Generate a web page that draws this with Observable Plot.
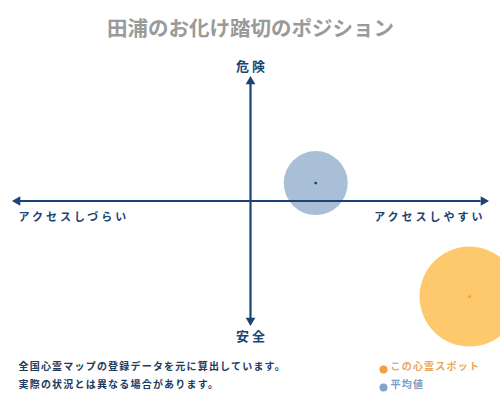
<!DOCTYPE html>
<html>
<head>
<meta charset="utf-8">
<script src="https://cdn.jsdelivr.net/npm/d3@7"></script>
<script src="https://cdn.jsdelivr.net/npm/@observablehq/plot@0.6"></script>
<style>
  html, body { margin: 0; padding: 0; background: #fff; }
  #chart { width: 500px; height: 400px; }
</style>
</head>
<body>
<div id="chart"></div>
<script>
// ---- data ----
const title = "田浦のお化け踏切のポジション";
const seriesNames = ["平均値", "この心霊スポット"];
const accessScore = [28, 94];      // x: アクセスしづらい(-100) … アクセスしやすい(100)
const dangerScore = [15, -80];     // y: 安全(-100) … 危険(100)
const weight = [64, 100];          // bubble size value
const axisLabels = { top: "危険", bottom: "安全", left: "アクセスしづらい", right: "アクセスしやすい" };
const notes = ["全国心霊マップの登録データを元に算出しています。", "実際の状況とは異なる場合があります。"];
const legendNames = ["この心霊スポット", "平均値"];

// ---- build ----
const spots = seriesNames.map((name, i) => ({ name, x: accessScore[i], y: dangerScore[i], w: weight[i] }));
const fills = { "平均値": "#a9bfd8", "この心霊スポット": "#fec96d" };
const dotFills = { "平均値": "#1d3f66", "この心霊スポット": "#f0a020" };
const legendDot = { "この心霊スポット": "#f0a040", "平均値": "#7ea5cb" };
const legendText = { "この心霊スポット": "#e6a85a", "平均値": "#7a9cc2" };
const navy = "#1b4473";
const font = "'Noto Sans CJK JP', 'Noto Sans', sans-serif";

const ends = [
  { x: 0, y: 100, rot: 0 },
  { x: 0, y: -100, rot: 180 },
  { x: -100, y: 0, rot: -90 },
  { x: 100, y: 0, rot: 90 }
];

const noteMarks = notes.map((t, i) =>
  Plot.text([t], { frameAnchor: "bottom-left", dx: 18, dy: -31 + i * 18, fill: "#1e3a5c", fontSize: 10, fontWeight: "bold", text: d => d })
);
const legendMarks = legendNames.flatMap((name, i) => [
  Plot.dot([name], { frameAnchor: "bottom-left", dx: 383, dy: -31 + i * 18, r: 4, fill: d => legendDot[d], stroke: "none" }),
  Plot.text([name], { frameAnchor: "bottom-left", dx: 390, dy: -31 + i * 18, fill: d => legendText[d], fontSize: 10, fontWeight: "bold", text: d => d })
]);

const chart = Plot.plot({
  width: 500,
  height: 400,
  margin: 0,
  style: { fontFamily: font, background: "#fff", overflow: "hidden" },
  x: { domain: [-100, 100], range: [17, 483], axis: null },
  y: { domain: [-100, 100], range: [320, 81], axis: null },
  r: { type: "linear", domain: [0, 100], range: [0, 50] },
  marks: [
    // bubbles
    Plot.dot(spots, { x: "x", y: "y", r: "w", fill: d => fills[d.name], stroke: "none" }),
    // axes
    Plot.ruleY([0], { x1: -99, x2: 99, stroke: navy, strokeWidth: 2.2 }),
    Plot.ruleX([0], { y1: -99, y2: 99, stroke: navy, strokeWidth: 2.2 }),
    Plot.dot(ends, { x: "x", y: "y", symbol: "triangle", r: 3.6, fill: navy, stroke: "none", rotate: "rot" }),
    // centre dots
    Plot.dot(spots, { x: "x", y: "y", r: 1.4, fill: d => dotFills[d.name], stroke: "none" }),
    // axis labels
    Plot.text([axisLabels.top], { x: 0, y: 100, dy: -15, fill: navy, fontSize: 13, fontWeight: "bold", text: d => d.split("").join(" ") }),
    Plot.text([axisLabels.bottom], { x: 0, y: -100, dy: 16, fill: navy, fontSize: 13, fontWeight: "bold", text: d => d.split("").join(" ") }),
    Plot.text([axisLabels.left], { x: -100, y: 0, dx: 1, dy: 16, textAnchor: "start", fill: navy, fontSize: 11, fontWeight: "bold", text: d => d }),
    Plot.text([axisLabels.right], { x: 100, y: 0, dx: 2, dy: 16, textAnchor: "end", fill: navy, fontSize: 11, fontWeight: "bold", text: d => d }),
    // title
    Plot.text([title], { frameAnchor: "top", dy: 21, fill: "#9a9a9a", fontSize: 20.5, fontWeight: "bold", text: d => d }),
    ...noteMarks,
    ...legendMarks
  ]
});

const sideSet = new Set([axisLabels.left, axisLabels.right]);
const noteSet = new Set([...notes, ...legendNames]);
d3.select(chart).selectAll("text").each(function () {
  const t = this.textContent;
  if (sideSet.has(t)) this.style.letterSpacing = "3px";
  else if (noteSet.has(t)) this.style.letterSpacing = "1.2px";
});
document.getElementById("chart").append(chart);
</script>
</body>
</html>
